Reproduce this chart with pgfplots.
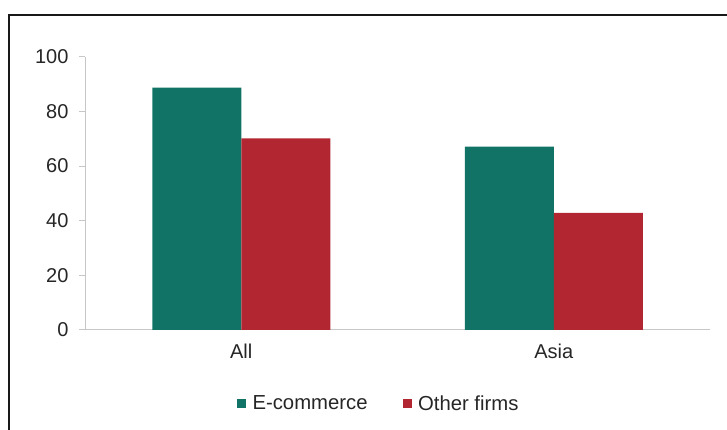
\documentclass[border=0pt]{standalone}
\usepackage{fontspec}
\setmainfont{Liberation Sans}
\usepackage{pgfplots}
\pgfplotsset{compat=1.18}
\definecolor{ecom}{RGB}{16,115,101}
\definecolor{other}{RGB}{177,38,48}
\definecolor{txt}{RGB}{38,38,38}
\begin{document}
\begin{tikzpicture}[x=1pt,y=1pt]
\path[use as bounding box] (0,0) rectangle (727,430);
\draw[line width=1.4pt, black!90] (9,0) -- (9,415) -- (727,415);
\begin{axis}[
  at={(85pt,100pt)}, anchor=south west,
  scale only axis, width=625pt, height=273.3pt,
  xmin=-0.5, xmax=1.5, ymin=0, ymax=100,
  ybar=0pt, bar width=89pt,
  axis x line=bottom, axis y line=left,
  axis line style={-, draw=black!22, line width=1pt},
  xtick={0,1}, xticklabels={All,Asia},
  xtick style={draw=none},
  ytick={0,20,40,60,80,100},
  ytick style={draw=black!22, line width=1pt},
  major tick length=6pt, tick align=outside,
  /pgf/number format/assume math mode=true,
  tick label style={font=\fontsize{20}{24}\selectfont, text=txt},
  yticklabel style={xshift=-7pt},
  xticklabel style={yshift=-4pt},
  legend style={at={(0.47,-0.269)}, anchor=center, draw=none, fill=none,
    font=\fontsize{20.3}{24}\selectfont, text=txt,
    /tikz/every even column/.append style={column sep=33pt}},
  legend columns=2,
  legend image code/.code={\fill[#1] (0pt,-4.5pt) rectangle (9pt,4.5pt); \path (13.5pt,0pt);},
]
\addplot[fill=ecom, draw=none] coordinates {(0,88.7) (1,67.1)};
\addplot[fill=other, draw=none] coordinates {(0,70.1) (1,42.9)};
\legend{E-commerce, Other firms}
\end{axis}
\end{tikzpicture}
\end{document}
